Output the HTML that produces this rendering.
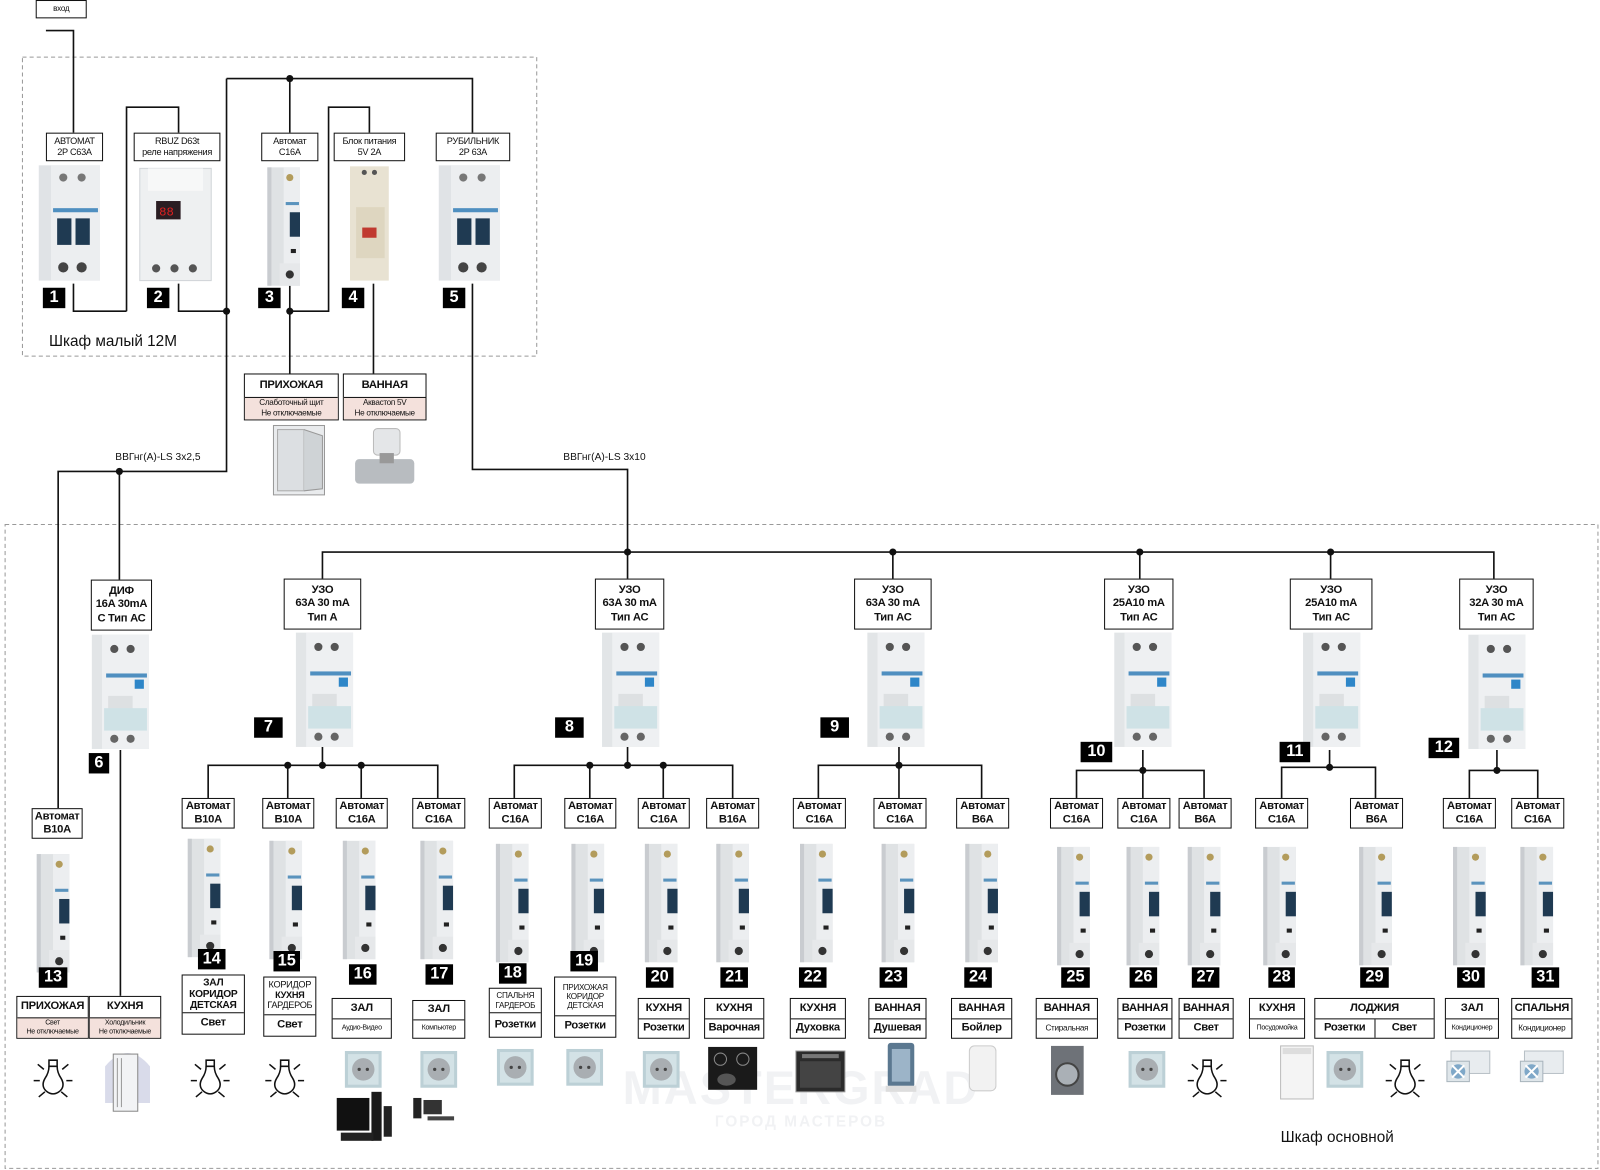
<!DOCTYPE html>
<html><head><meta charset="utf-8"><style>
html,body{margin:0;padding:0;background:#fff;width:1600px;height:1170px;overflow:hidden}
#w{position:absolute;left:0;top:0;width:1568px;height:1147px;transform:scale(1.0204);transform-origin:0 0}
.b{position:absolute;border:1.5px solid #111;background:#fff;display:flex;flex-direction:column;justify-content:center;align-items:center;text-align:center;font:bold 11px/1.2 "Liberation Sans",sans-serif;box-sizing:border-box;letter-spacing:-0.3px;color:#111}
.r{width:100%;flex:1;display:flex;align-items:center;justify-content:center;box-sizing:border-box}
.t{border-top:1.5px solid #111}
.p{background:#f4e1dc;font-weight:normal;font-size:8px;line-height:1.3}
.s{font-weight:normal;font-size:8px}
.n{position:absolute;background:#000;color:#fff;font:bold 16px/20px "Liberation Sans",sans-serif;text-align:center;height:20px}
.l{position:absolute;font:11px "Liberation Sans",sans-serif;color:#111;white-space:nowrap}
svg{position:absolute;left:0;top:0}
</style></head><body><div id="w">
<svg width="1568" height="1147" viewBox="0 0 1568 1147">
<defs>
<g id="m1">
<rect x="4" y="2" width="32" height="116" fill="#dfe2e4"/>
<rect x="20" y="2" width="16" height="116" fill="#eceef0"/>
<rect x="4" y="2" width="4" height="116" fill="#c9ccd0"/>
<circle cx="26" cy="12" r="3.5" fill="#b39c5c"/>
<rect x="22" y="36" width="13" height="3" fill="#5a93bd"/>
<rect x="26" y="46" width="10" height="24" fill="#1f3a52"/>
<rect x="27" y="82" width="5" height="4" fill="#222"/>
<rect x="16" y="96" width="20" height="22" fill="#e6e8ea"/>
<circle cx="26" cy="107" r="4" fill="#333"/>
</g>
<g id="m2">
<rect x="2" y="0" width="56" height="112" fill="#e2e5e7"/>
<rect x="12" y="0" width="46" height="112" fill="#eef0f2"/>
<circle cx="24" cy="14" r="4" fill="#555"/><circle cx="40" cy="14" r="4" fill="#555"/>
<rect x="16" y="38" width="40" height="4" fill="#4f8fc0"/>
<rect x="44" y="44" width="9" height="9" fill="#2e86c8"/>
<rect x="18" y="60" width="24" height="14" fill="#dde0e2"/>
<rect x="14" y="72" width="42" height="22" fill="#cfe2e6"/>
<circle cx="24" cy="102" r="4" fill="#666"/><circle cx="40" cy="102" r="4" fill="#666"/>
</g>
<g id="m3">
<rect x="2" y="0" width="60" height="113" fill="#e0e3e6"/>
<rect x="14" y="0" width="48" height="113" fill="#eceef0"/>
<circle cx="26" cy="12" r="4" fill="#777"/><circle cx="44" cy="12" r="4" fill="#777"/>
<rect x="16" y="42" width="44" height="4" fill="#4f8fc0"/>
<rect x="20" y="52" width="14" height="26" fill="#1f3a52"/><rect x="38" y="52" width="14" height="26" fill="#1f3a52"/>
<circle cx="26" cy="100" r="5" fill="#444"/><circle cx="44" cy="100" r="5" fill="#444"/>
</g>
<g id="bulb" fill="none" stroke="#111" stroke-width="1.5">
<path d="M15 6 h8 v6 h-8 z"/>
<path d="M15 12 Q15 18 11 24 Q7 31 12 36 Q19 42 26 36 Q31 31 27 24 Q23 18 23 12"/>
<path d="M0 26 h6 M32 26 h6 M4 10 l6 5 M34 10 l-6 5 M5 42 l6 -5 M33 42 l-6 -5"/>
</g>
<g id="sock">
<rect x="0" y="0" width="36" height="36" fill="#bcd0d6"/><rect x="3" y="3" width="30" height="30" fill="#d3e2e6"/>
<circle cx="18" cy="18" r="11" fill="#a9aeb2"/><circle cx="14" cy="18" r="1.6" fill="#444"/><circle cx="22" cy="18" r="1.6" fill="#444"/>
</g>
<g id="ac">
<rect x="4" y="0" width="38" height="22" fill="#e8ecef" stroke="#b8c0c6"/>
<rect x="0" y="10" width="22" height="20" fill="#dfe6ea" stroke="#a8b4bc"/>
<circle cx="11" cy="20" r="7" fill="#7fa8c8"/><path d="M5 14 L17 26 M17 14 L5 26" stroke="#fff" stroke-width="2"/>
</g>
</defs>
<g fill="none" stroke="#999" stroke-width="1" stroke-dasharray="4,3">
<rect x="22" y="56" width="504" height="293"/>
<rect x="5" y="514" width="1561" height="631"/>
</g>
<text x="785" y="1082" text-anchor="middle" font-family="Liberation Sans" font-weight="bold" font-size="46" fill="#f1f2f4" letter-spacing="2">MASTERGRAD</text>
<text x="785" y="1104" text-anchor="middle" font-family="Liberation Sans" font-weight="bold" font-size="15" fill="#f1f2f4" letter-spacing="2">ГОРОД МАСТЕРОВ</text>
<g fill="none" stroke="#111" stroke-width="1.6">
<path d="M45 30 H72 V130"/>
<path d="M124 305 V105 H175 V130"/><path d="M72 278 V305 H124"/><path d="M175 278 V305 H222"/>
<path d="M222 77 H463 V130"/><path d="M284 77 V130"/><path d="M222 77 V462 H57 V792"/>
<path d="M284 278 V366"/><path d="M284 305 H322 V105 H362 V130"/><path d="M366 278 V366"/>
<path d="M463 278 V460 H615 V541"/><path d="M117 462 V568"/>
<path d="M316 567 V541 H1464 V567"/><path d="M615 541 V567 M875 541 V567 M1117 541 V567 M1304 541 V567"/>
<path d="M118 735 V976"/>
<path d="M316 732 V750 M204 782 V750 H429 V782 M282 750 V782 M354 750 V782"/>
<path d="M615 732 V750 M504 782 V750 H718 V782 M578 750 V782 M650 750 V782"/>
<path d="M881 732 V782 M802 782 V750 H962 V782"/>
<path d="M1120 735 V782 M1055 782 V755 H1180 V782"/>
<path d="M1303 735 V752 M1256 782 V752 H1348 V782"/>
<path d="M1467 735 V755 M1440 782 V755 H1507 V782"/>
</g>
<g fill="#111">
<circle cx="284" cy="77" r="3.5"/><circle cx="222" cy="305" r="3.5"/><circle cx="284" cy="305" r="3.5"/><circle cx="117" cy="462" r="3.5"/>
<circle cx="615" cy="541" r="3.5"/><circle cx="875" cy="541" r="3.5"/><circle cx="1117" cy="541" r="3.5"/><circle cx="1304" cy="541" r="3.5"/>
<circle cx="282" cy="750" r="3.5"/><circle cx="316" cy="750" r="3.5"/><circle cx="354" cy="750" r="3.5"/>
<circle cx="578" cy="750" r="3.5"/><circle cx="615" cy="750" r="3.5"/><circle cx="650" cy="750" r="3.5"/>
<circle cx="881" cy="750" r="3.5"/><circle cx="1120" cy="755" r="3.5"/><circle cx="1303" cy="752" r="3.5"/><circle cx="1467" cy="755" r="3.5"/>
</g>
<use href="#m3" x="36" y="162"/>
<g transform="translate(137,165)"><rect x="0" y="0" width="70" height="110" fill="#eef0f1" stroke="#d0d4d8"/><rect x="8" y="0" width="54" height="22" fill="#f7f8f8"/><rect x="16" y="32" width="24" height="18" fill="#2a1d22"/><text x="19" y="46" font-size="12" fill="#e02020" font-family="Liberation Mono">88</text><circle cx="16" cy="98" r="4" fill="#555"/><circle cx="34" cy="98" r="4" fill="#555"/><circle cx="52" cy="98" r="4" fill="#555"/></g>
<use href="#m1" x="258" y="162"/>
<g transform="translate(343,163)"><rect x="0" y="0" width="38" height="112" fill="#e8e2d2"/><rect x="6" y="40" width="28" height="50" fill="#ded6c0"/><rect x="12" y="60" width="14" height="10" fill="#c03a30"/><circle cx="14" cy="6" r="2.5" fill="#555"/><circle cx="24" cy="6" r="2.5" fill="#555"/></g>
<use href="#m3" x="428" y="162"/>
<g transform="translate(268,417)"><rect x="0" y="0" width="50" height="68" fill="#e9ebed" stroke="#999"/><rect x="4" y="4" width="26" height="60" fill="#dcdfe2" stroke="#aaa"/><path d="M30 4 L48 10 L48 62 L30 64" fill="#cfd3d6" stroke="#999"/></g>
<g transform="translate(346,420)"><rect x="20" y="0" width="26" height="26" rx="4" fill="#e4e6e8" stroke="#bbb"/><rect x="2" y="30" width="58" height="24" rx="4" fill="#b8bcc0"/><rect x="26" y="24" width="14" height="10" fill="#999"/></g>
<use href="#m2" x="88" y="622"/><use href="#m2" x="288" y="620"/><use href="#m2" x="588" y="620"/><use href="#m2" x="848" y="620"/><use href="#m2" x="1090" y="620"/><use href="#m2" x="1275" y="620"/><use href="#m2" x="1437" y="622"/>
<use href="#m1" x="32" y="835"/>
<use href="#m1" x="180" y="820"/><use href="#m1" x="260" y="822"/><use href="#m1" x="332" y="822"/><use href="#m1" x="408" y="822"/>
<use href="#m1" x="482" y="825"/><use href="#m1" x="556" y="825"/><use href="#m1" x="628" y="825"/><use href="#m1" x="698" y="825"/>
<use href="#m1" x="780" y="825"/><use href="#m1" x="860" y="825"/><use href="#m1" x="942" y="825"/>
<use href="#m1" x="1032" y="828"/><use href="#m1" x="1100" y="828"/><use href="#m1" x="1160" y="828"/><use href="#m1" x="1234" y="828"/><use href="#m1" x="1328" y="828"/><use href="#m1" x="1420" y="828"/><use href="#m1" x="1486" y="828"/>
<use href="#bulb" x="33" y="1033"/><use href="#bulb" x="187" y="1033"/><use href="#bulb" x="260" y="1033"/><use href="#bulb" x="1164" y="1033"/><use href="#bulb" x="1358" y="1033"/>
<use href="#sock" x="338" y="1030"/><use href="#sock" x="412" y="1030"/><use href="#sock" x="487" y="1028"/><use href="#sock" x="555" y="1028"/><use href="#sock" x="630" y="1030"/><use href="#sock" x="1106" y="1030"/><use href="#sock" x="1300" y="1030"/>
<g transform="translate(103,1025)"><path d="M0 56 V20 Q22 -6 44 20 V56 Z" fill="#d9dbea"/><rect x="8" y="8" width="24" height="56" fill="#f2f3f5" stroke="#888"/><path d="M12 12 V60 M16 12 V60" stroke="#999"/></g>
<g transform="translate(694,1026)"><rect width="48" height="42" fill="#1a1a1a"/><circle cx="12" cy="12" r="6" fill="none" stroke="#888"/><circle cx="34" cy="12" r="6" fill="none" stroke="#888"/><ellipse cx="18" cy="32" rx="9" ry="6" fill="#555"/></g>
<g transform="translate(780,1030)"><rect width="48" height="40" fill="#2b2b2b" stroke="#999"/><rect x="4" y="10" width="40" height="26" fill="#444"/><rect x="6" y="3" width="36" height="4" fill="#777"/></g>
<g transform="translate(866,1022)"><rect x="4" y="0" width="26" height="44" rx="3" fill="#5b7890"/><rect x="8" y="6" width="18" height="32" fill="#9cb4c8"/><rect x="2" y="42" width="30" height="6" fill="#ddd"/></g>
<g transform="translate(950,1025)"><rect width="26" height="44" rx="5" fill="#f2f2f2" stroke="#ccc"/></g>
<g transform="translate(1030,1025)"><rect width="32" height="48" fill="#6e7278"/><circle cx="16" cy="28" r="11" fill="#aab0b6" stroke="#444" stroke-width="2"/></g>
<g transform="translate(1255,1025)"><rect width="32" height="52" fill="#f4f4f4" stroke="#bbb"/><rect x="2" y="2" width="28" height="6" fill="#ddd"/></g>
<use href="#ac" x="1418" y="1030"/><use href="#ac" x="1490" y="1030"/>
<g transform="translate(330,1070)"><rect x="0" y="6" width="32" height="32" fill="#111"/><rect x="34" y="0" width="10" height="48" fill="#1a1a1a"/><rect x="4" y="40" width="32" height="8" fill="#222"/><rect x="46" y="14" width="8" height="30" fill="#222"/></g>
<g transform="translate(405,1076)"><rect x="0" y="0" width="8" height="20" fill="#222"/><rect x="10" y="2" width="18" height="14" fill="#333"/><rect x="14" y="18" width="26" height="4" fill="#444"/></g>
</svg>

<div class="b s" style="left:35px;top:0;width:50px;height:18px;font-size:8px">вход</div>
<div class="b" style="left:45px;top:130px;width:56px;height:28px;font-size:9px;font-weight:normal">АВТОМАТ<br>2P C63A</div>
<div class="b" style="left:131px;top:130px;width:85px;height:28px;font-size:9px;font-weight:normal">RBUZ D63t<br>реле напряжения</div>
<div class="b" style="left:256px;top:130px;width:56px;height:28px;font-size:9px;font-weight:normal">Автомат<br>C16A</div>
<div class="b" style="left:327px;top:130px;width:70px;height:28px;font-size:9px;font-weight:normal">Блок питания<br>5V 2A</div>
<div class="b" style="left:427px;top:130px;width:73px;height:28px;font-size:9px;font-weight:normal">РУБИЛЬНИК<br>2P 63A</div>
<div class="n" style="left:42px;top:282px;width:22px">1</div>
<div class="n" style="left:144px;top:282px;width:22px">2</div>
<div class="n" style="left:253px;top:282px;width:22px">3</div>
<div class="n" style="left:335px;top:282px;width:22px">4</div>
<div class="n" style="left:434px;top:282px;width:22px">5</div>
<div class="l" style="left:48px;top:326px;font-size:15px">Шкаф малый 12М</div>
<div class="b" style="left:239px;top:366px;width:93px;height:46px"><div class="r">ПРИХОЖАЯ</div><div class="r t p">Слаботочный щит<br>Не отключаемые</div></div>
<div class="b" style="left:336px;top:366px;width:82px;height:46px"><div class="r">ВАННАЯ</div><div class="r t p">Аквастоп 5V<br>Не отключаемые</div></div>
<div class="l" style="left:113px;top:443px;font-size:10px">ВВГнг(А)-LS 3х2,5</div>
<div class="l" style="left:552px;top:443px;font-size:10px">ВВГнг(А)-LS 3х10</div>

<div class="b" style="left:89px;top:568px;width:60px;height:50px">ДИФ<br>16A 30mA<br>С Тип АС</div>
<div class="b" style="left:278px;top:567px;width:76px;height:50px">УЗО<br>63A 30 mA<br>Тип А</div>
<div class="b" style="left:583px;top:567px;width:68px;height:50px">УЗО<br>63A 30 mA<br>Тип АС</div>
<div class="b" style="left:837px;top:567px;width:76px;height:50px">УЗО<br>63A 30 mA<br>Тип АС</div>
<div class="b" style="left:1082px;top:567px;width:68px;height:50px">УЗО<br>25A10 mA<br>Тип АС</div>
<div class="b" style="left:1264px;top:567px;width:81px;height:50px">УЗО<br>25A10 mA<br>Тип АС</div>
<div class="b" style="left:1430px;top:567px;width:73px;height:50px">УЗО<br>32A 30 mA<br>Тип АС</div>
<div class="n" style="left:87px;top:738px;width:20px">6</div>
<div class="n" style="left:249px;top:703px;width:28px">7</div>
<div class="n" style="left:544px;top:703px;width:28px">8</div>
<div class="n" style="left:804px;top:703px;width:28px">9</div>
<div class="n" style="left:1059px;top:727px;width:31px">10</div>
<div class="n" style="left:1254px;top:727px;width:30px">11</div>
<div class="n" style="left:1400px;top:723px;width:30px">12</div>

<div class="b" style="left:31px;top:792px;width:50px;height:30px">Автомат<br>B10A</div>
<div class="b" style="left:178px;top:782px;width:52px;height:30px">Автомат<br>B10A</div>
<div class="b" style="left:257px;top:782px;width:51px;height:30px">Автомат<br>B10A</div>
<div class="b" style="left:329px;top:782px;width:51px;height:30px">Автомат<br>C16A</div>
<div class="b" style="left:404px;top:782px;width:52px;height:30px">Автомат<br>C16A</div>
<div class="b" style="left:479px;top:782px;width:52px;height:30px">Автомат<br>C16A</div>
<div class="b" style="left:553px;top:782px;width:51px;height:30px">Автомат<br>C16A</div>
<div class="b" style="left:625px;top:782px;width:51px;height:30px">Автомат<br>C16A</div>
<div class="b" style="left:692px;top:782px;width:52px;height:30px">Автомат<br>B16A</div>
<div class="b" style="left:777px;top:782px;width:52px;height:30px">Автомат<br>C16A</div>
<div class="b" style="left:856px;top:782px;width:52px;height:30px">Автомат<br>C16A</div>
<div class="b" style="left:937px;top:782px;width:52px;height:30px">Автомат<br>B6A</div>
<div class="b" style="left:1029px;top:782px;width:52px;height:30px">Автомат<br>C16A</div>
<div class="b" style="left:1095px;top:782px;width:52px;height:30px">Автомат<br>C16A</div>
<div class="b" style="left:1155px;top:782px;width:52px;height:30px">Автомат<br>B6A</div>
<div class="b" style="left:1230px;top:782px;width:52px;height:30px">Автомат<br>C16A</div>
<div class="b" style="left:1323px;top:782px;width:52px;height:30px">Автомат<br>B6A</div>
<div class="b" style="left:1414px;top:782px;width:52px;height:30px">Автомат<br>C16A</div>
<div class="b" style="left:1481px;top:782px;width:52px;height:30px">Автомат<br>C16A</div>

<div class="n" style="left:38px;top:948px;width:28px">13</div>
<div class="n" style="left:194px;top:930px;width:27px">14</div>
<div class="n" style="left:268px;top:932px;width:26px">15</div>
<div class="n" style="left:342px;top:945px;width:27px">16</div>
<div class="n" style="left:417px;top:945px;width:27px">17</div>
<div class="n" style="left:489px;top:944px;width:27px">18</div>
<div class="n" style="left:559px;top:932px;width:27px">19</div>
<div class="n" style="left:633px;top:948px;width:27px">20</div>
<div class="n" style="left:706px;top:948px;width:27px">21</div>
<div class="n" style="left:783px;top:948px;width:27px">22</div>
<div class="n" style="left:862px;top:948px;width:27px">23</div>
<div class="n" style="left:945px;top:948px;width:27px">24</div>
<div class="n" style="left:1040px;top:948px;width:28px">25</div>
<div class="n" style="left:1107px;top:948px;width:27px">26</div>
<div class="n" style="left:1168px;top:948px;width:27px">27</div>
<div class="n" style="left:1243px;top:948px;width:26px">28</div>
<div class="n" style="left:1333px;top:948px;width:28px">29</div>
<div class="n" style="left:1428px;top:948px;width:27px">30</div>
<div class="n" style="left:1501px;top:948px;width:27px">31</div>

<div class="b" style="left:16px;top:976px;width:71px;height:42px"><div class="r">ПРИХОЖАЯ</div><div class="r t p" style="font-size:7px">Свет<br>Не отключаемые</div></div>
<div class="b" style="left:87px;top:976px;width:71px;height:42px"><div class="r">КУХНЯ</div><div class="r t p" style="font-size:7px">Холодильник<br>Не отключаемые</div></div>
<div class="b" style="left:178px;top:955px;width:62px;height:59px"><div class="r" style="flex:1.8"><div style="font-size:10px;line-height:1.1">ЗАЛ<br>КОРИДОР<br>ДЕТСКАЯ</div></div><div class="r t">Свет</div></div>
<div class="b" style="left:258px;top:957px;width:52px;height:59px"><div class="r" style="flex:1.8"><div style="font-size:9px;font-weight:normal;line-height:1.1">КОРИДОР<br><b>КУХНЯ</b><br>ГАРДЕРОБ</div></div><div class="r t">Свет</div></div>
<div class="b" style="left:325px;top:978px;width:59px;height:40px"><div class="r">ЗАЛ</div><div class="r t s" style="font-size:7px">Аудио-Видео</div></div>
<div class="b" style="left:404px;top:980px;width:52px;height:38px"><div class="r">ЗАЛ</div><div class="r t s" style="font-size:7px">Компьютер</div></div>
<div class="b" style="left:479px;top:968px;width:52px;height:49px"><div class="r"><div style="font-size:8px;font-weight:normal;line-height:1.15">СПАЛЬНЯ<br>ГАРДЕРОБ</div></div><div class="r t">Розетки</div></div>
<div class="b" style="left:543px;top:957px;width:61px;height:60px"><div class="r" style="flex:1.8"><div style="font-size:8px;font-weight:normal;line-height:1.15">ПРИХОЖАЯ<br>КОРИДОР<br>ДЕТСКАЯ</div></div><div class="r t">Розетки</div></div>
<div class="b" style="left:625px;top:978px;width:51px;height:40px"><div class="r">КУХНЯ</div><div class="r t">Розетки</div></div>
<div class="b" style="left:690px;top:978px;width:59px;height:40px"><div class="r">КУХНЯ</div><div class="r t">Варочная</div></div>
<div class="b" style="left:774px;top:978px;width:55px;height:40px"><div class="r">КУХНЯ</div><div class="r t">Духовка</div></div>
<div class="b" style="left:851px;top:978px;width:57px;height:40px"><div class="r">ВАННАЯ</div><div class="r t">Душевая</div></div>
<div class="b" style="left:932px;top:978px;width:60px;height:40px"><div class="r">ВАННАЯ</div><div class="r t">Бойлер</div></div>
<div class="b" style="left:1015px;top:978px;width:61px;height:40px"><div class="r">ВАННАЯ</div><div class="r t s">Стиральная</div></div>
<div class="b" style="left:1095px;top:978px;width:54px;height:40px"><div class="r">ВАННАЯ</div><div class="r t">Розетки</div></div>
<div class="b" style="left:1155px;top:978px;width:54px;height:40px"><div class="r">ВАННАЯ</div><div class="r t">Свет</div></div>
<div class="b" style="left:1224px;top:978px;width:55px;height:40px"><div class="r">КУХНЯ</div><div class="r t s" style="font-size:7px">Посудомойка</div></div>
<div class="b" style="left:1288px;top:978px;width:118px;height:40px"><div class="r">ЛОДЖИЯ</div><div class="r t" style="padding:0"><div class="r" style="height:100%;border-right:1.5px solid #111">Розетки</div><div class="r" style="height:100%">Свет</div></div></div>
<div class="b" style="left:1416px;top:978px;width:53px;height:40px"><div class="r">ЗАЛ</div><div class="r t s" style="font-size:7px">Кондиционер</div></div>
<div class="b" style="left:1481px;top:978px;width:60px;height:40px"><div class="r">СПАЛЬНЯ</div><div class="r t s" style="font-size:8px">Кондиционер</div></div>
<div class="l" style="left:1255px;top:1106px;font-size:15px">Шкаф основной</div>
</div></body></html>
